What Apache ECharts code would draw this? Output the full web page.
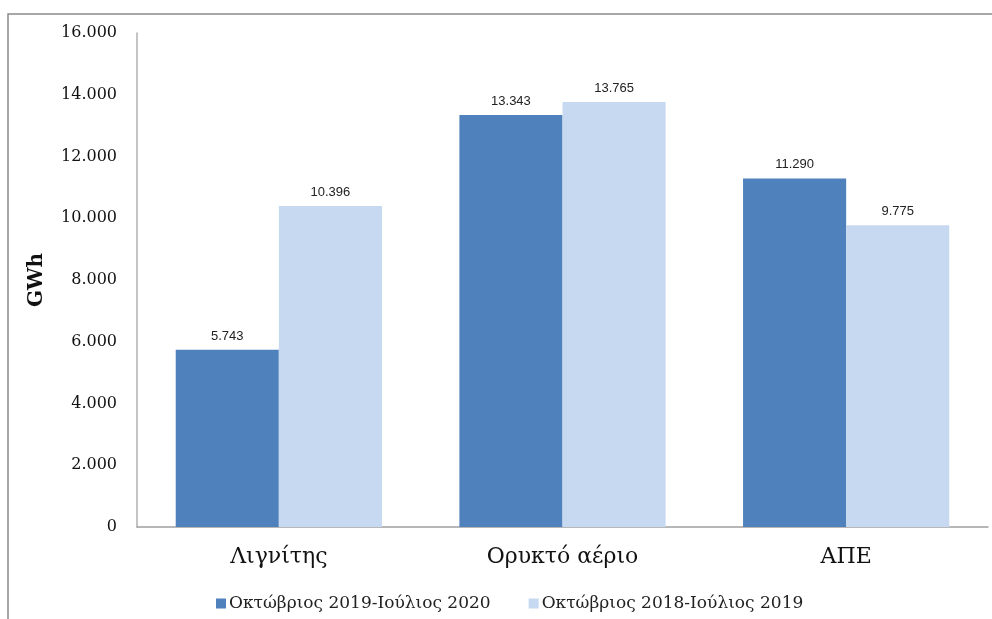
<!DOCTYPE html>
<html>
<head>
<meta charset="utf-8">
<script src="https://cdn.jsdelivr.net/npm/echarts@6/dist/echarts.min.js"></script>
<style>
html,body{margin:0;padding:0;background:#fff;}
#chart{width:992px;height:619px;}
</style>
</head>
<body>
<div id="chart"></div>
<script>
var categories = ['Λιγνίτης', 'Ορυκτό αέριο', 'ΑΠΕ'];
var seriesNames = ['Οκτώβριος 2019-Ιούλιος 2020', 'Οκτώβριος 2018-Ιούλιος 2019'];
var values2020 = [5743, 13343, 11290];
var values2019 = [10396, 13765, 9775];
var yTicks = [0, 2000, 4000, 6000, 8000, 10000, 12000, 14000, 16000];

function fmt(v) {
  return String(v).replace(/\B(?=(\d{3})+(?!\d))/g, '.');
}

var chart = echarts.init(document.getElementById('chart'));
var labelStyle = {
  show: true,
  position: 'top',
  distance: 7,
  fontFamily: 'Liberation Sans',
  fontSize: 13,
  color: '#222',
  formatter: function (p) { return fmt(p.value); }
};
chart.setOption({
  animation: false,
  graphic: [{
    type: 'rect',
    shape: { x: 8, y: 14, width: 1100, height: 800 },
    style: { fill: 'none', stroke: '#8a8a8a', lineWidth: 1.5 },
    silent: true,
    z: -1
  }],
  grid: { left: 137, right: 4, top: 33, bottom: 92, containLabel: false },
  legend: {
    left: 211,
    top: 590,
    itemWidth: 10,
    itemHeight: 10,
    itemGap: 38,
    icon: 'rect',
    textStyle: { fontFamily: 'DejaVu Serif', fontSize: 17, color: '#222', padding: [0, 0, 0, -2] },
    data: seriesNames
  },
  xAxis: {
    type: 'category',
    data: categories,
    axisLine: { lineStyle: { color: '#a0a0a0', width: 1.5 } },
    axisTick: { show: false },
    axisLabel: { fontFamily: 'DejaVu Serif', fontSize: 22, color: '#111', margin: 19 }
  },
  yAxis: {
    type: 'value',
    min: 0,
    max: 16000,
    interval: 2000,
    name: 'GWh',
    nameLocation: 'middle',
    nameGap: 90,
    nameTextStyle: { fontFamily: 'DejaVu Serif', fontSize: 20, fontWeight: 'bold', color: '#111' },
    axisLine: { show: true, lineStyle: { color: '#b0b0b0', width: 1.5 } },
    axisTick: { show: false },
    splitLine: { show: false },
    axisLabel: {
      fontFamily: 'DejaVu Serif', fontSize: 16, color: '#111', margin: 20,
      formatter: function (v) { return yTicks.indexOf(v) >= 0 ? fmt(v) : ''; }
    }
  },
  series: [{
    name: seriesNames[0],
    type: 'bar',
    data: values2020,
    barGap: '0%',
    barCategoryGap: '27.3%',
    itemStyle: { color: '#4F81BD' },
    label: labelStyle
  }, {
    name: seriesNames[1],
    type: 'bar',
    data: values2019,
    barGap: '0%',
    barCategoryGap: '27.3%',
    itemStyle: { color: '#C6D9F1' },
    label: labelStyle
  }]
});
</script>
</body>
</html>
